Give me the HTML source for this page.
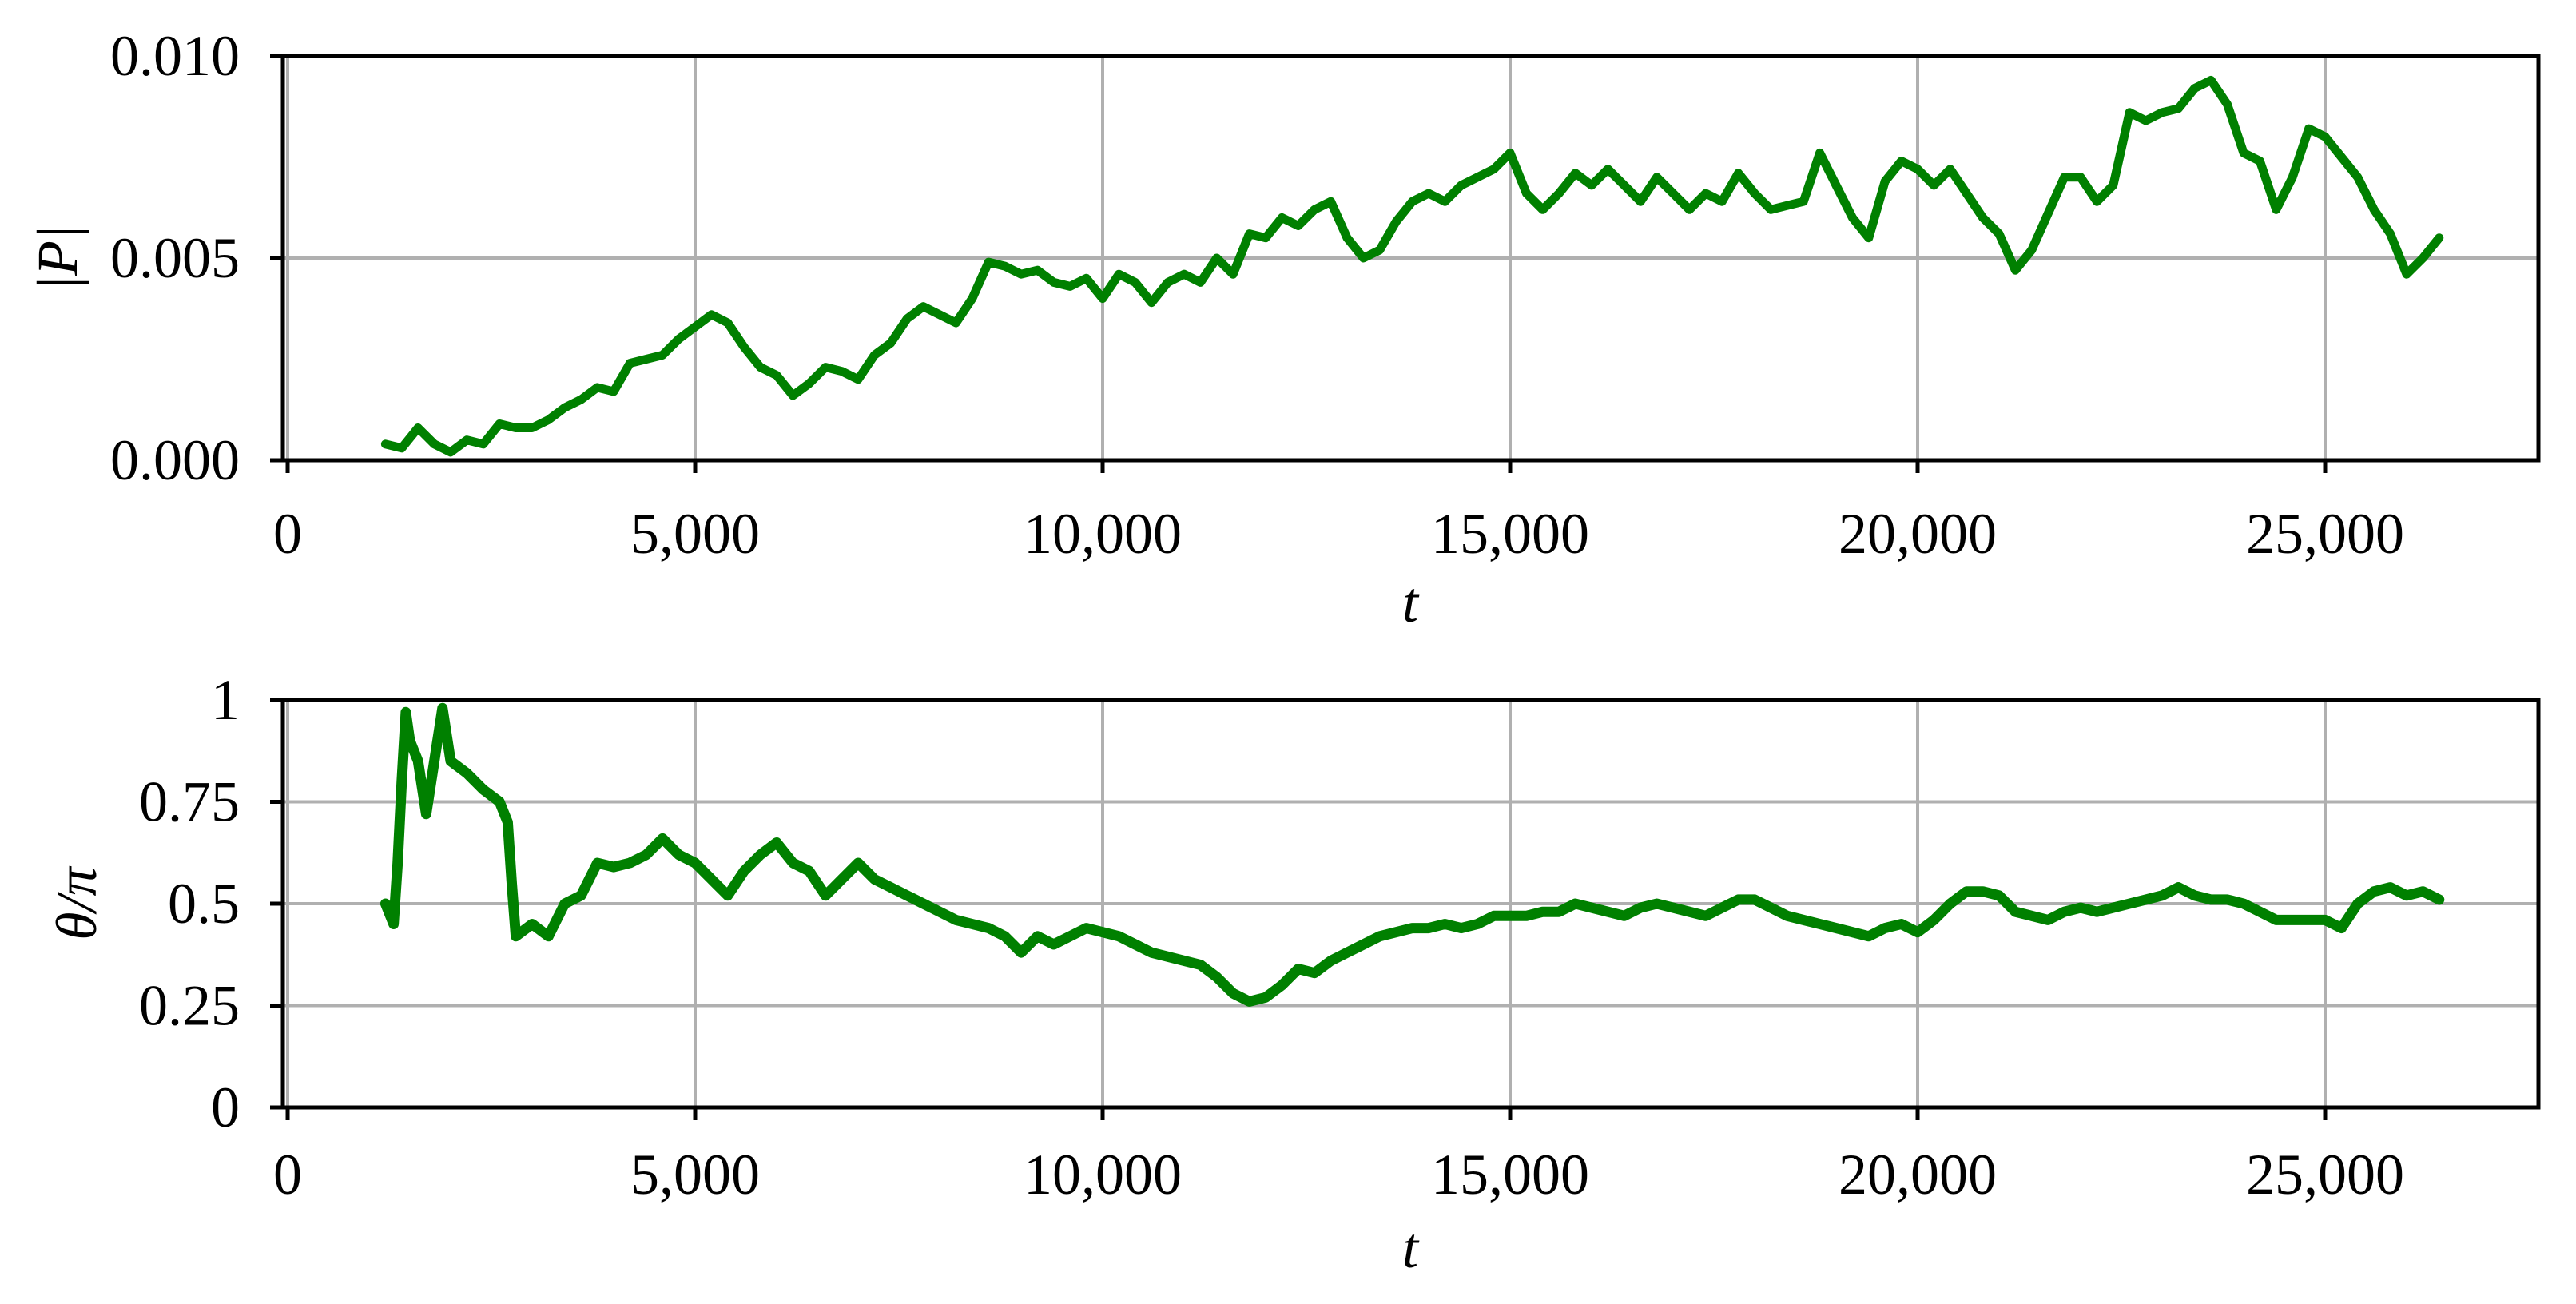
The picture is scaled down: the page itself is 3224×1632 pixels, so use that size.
<!DOCTYPE html>
<html><head><meta charset="utf-8"><style>
html,body{margin:0;padding:0;background:#fff;}
svg{display:block;}
text{font-family:"Liberation Serif","DejaVu Serif",serif;fill:#000;}
</style></head><body>
<svg id="fig" width="3224" height="1632" viewBox="0 0 3224 1632" xmlns="http://www.w3.org/2000/svg"></svg>
<script>
const tP = [1200,1400,1600,1800,2000,2200,2400,2600,2800,3000,3200,3400,3600,3800,4000,4200,4400,4600,4800,5000,5200,5400,5600,5800,6000,6200,6400,6600,6800,7000,7200,7400,7600,7800,8000,8200,8400,8600,8800,9000,9200,9400,9600,9800,10000,10200,10400,10600,10800,11000,11200,11400,11600,11800,12000,12200,12400,12600,12800,13000,13200,13400,13600,13800,14000,14200,14400,14600,14800,15000,15200,15400,15600,15800,16000,16200,16400,16600,16800,17000,17200,17400,17600,17800,18000,18200,18400,18600,18800,19000,19200,19400,19600,19800,20000,20200,20400,20600,20800,21000,21200,21400,21600,21800,22000,22200,22400,22600,22800,23000,23200,23400,23600,23800,24000,24200,24400,24600,24800,25000,25200,25400,25600,25800,26000,26200,26400];
const pVals = [0.4,0.3,0.8,0.4,0.2,0.5,0.4,0.9,0.8,0.8,1.0,1.3,1.5,1.8,1.7,2.4,2.5,2.6,3.0,3.3,3.6,3.4,2.8,2.3,2.1,1.6,1.9,2.3,2.2,2.0,2.6,2.9,3.5,3.8,3.6,3.4,4.0,4.9,4.8,4.6,4.7,4.4,4.3,4.5,4.0,4.6,4.4,3.9,4.4,4.6,4.4,5.0,4.6,5.6,5.5,6.0,5.8,6.2,6.4,5.5,5.0,5.2,5.9,6.4,6.6,6.4,6.8,7.0,7.2,7.6,6.6,6.2,6.6,7.1,6.8,7.2,6.8,6.4,7.0,6.6,6.2,6.6,6.4,7.1,6.6,6.2,6.3,6.4,7.6,6.8,6.0,5.5,6.9,7.4,7.2,6.8,7.2,6.6,6.0,5.6,4.7,5.2,6.1,7.0,7.0,6.4,6.8,8.6,8.4,8.6,8.7,9.2,9.4,8.8,7.6,7.4,6.2,7.0,8.2,8.0,7.5,7.0,6.2,5.6,4.6,5.0,5.5];
const tTh = [1200,1300,1350,1400,1450,1500,1600,1700,1800,1900,2000,2200,2400,2600,2700,2750,2800,3000,3200,3400,3600,3800,4000,4200,4400,4600,4800,5000,5200,5400,5600,5800,6000,6200,6400,6600,6800,7000,7200,7400,7600,7800,8000,8200,8400,8600,8800,9000,9200,9400,9600,9800,10000,10200,10400,10600,10800,11000,11200,11400,11600,11800,12000,12200,12400,12600,12800,13000,13200,13400,13600,13800,14000,14200,14400,14600,14800,15000,15200,15400,15600,15800,16000,16200,16400,16600,16800,17000,17200,17400,17600,17800,18000,18200,18400,18600,18800,19000,19200,19400,19600,19800,20000,20200,20400,20600,20800,21000,21200,21400,21600,21800,22000,22200,22400,22600,22800,23000,23200,23400,23600,23800,24000,24200,24400,24600,24800,25000,25200,25400,25600,25800,26000,26200,26400];
const thVals = [0.5,0.45,0.6,0.8,0.97,0.9,0.85,0.72,0.85,0.98,0.85,0.82,0.78,0.75,0.7,0.55,0.42,0.45,0.42,0.5,0.52,0.6,0.59,0.6,0.62,0.66,0.62,0.6,0.56,0.52,0.58,0.62,0.65,0.6,0.58,0.52,0.56,0.6,0.56,0.54,0.52,0.5,0.48,0.46,0.45,0.44,0.42,0.38,0.42,0.40,0.42,0.44,0.43,0.42,0.40,0.38,0.37,0.36,0.35,0.32,0.28,0.26,0.27,0.30,0.34,0.33,0.36,0.38,0.40,0.42,0.43,0.44,0.44,0.45,0.44,0.45,0.47,0.47,0.47,0.48,0.48,0.50,0.49,0.48,0.47,0.49,0.50,0.49,0.48,0.47,0.49,0.51,0.51,0.49,0.47,0.46,0.45,0.44,0.43,0.42,0.44,0.45,0.43,0.46,0.50,0.53,0.53,0.52,0.48,0.47,0.46,0.48,0.49,0.48,0.49,0.50,0.51,0.52,0.54,0.52,0.51,0.51,0.50,0.48,0.46,0.46,0.46,0.46,0.44,0.50,0.53,0.54,0.52,0.53,0.51];
const xTicks = [0,5000,10000,15000,20000,25000];
const xTickLabels = ["0","5,000","10,000","15,000","20,000","25,000"];
const pTicks = [0,5,10];
const pTickLabels = ["0.000","0.005","0.010"];
const thTicks = [0,0.25,0.5,0.75,1];
const thTickLabels = ["0","0.25","0.5","0.75","1"];

const NS="http://www.w3.org/2000/svg";
const svg=document.getElementById('fig');
function mk(tag,attrs,parent){const e=document.createElementNS(NS,tag);for(const k in attrs)e.setAttribute(k,attrs[k]);(parent||svg).appendChild(e);return e;}
const L=354,R=3177;
const xs=t=>360+t*(510/5000);

function panel(top,bot,ymin,ymax,tx,yv,yt,ytl,ylab,ylabX,name,tickLabY,xlabY,sw){
  const ys=v=>bot-(v-ymin)/(ymax-ymin)*(bot-top);
  const g=mk('g',{});
  
  
  xTicks.forEach(t=>{const l=mk('line',{x1:xs(t),x2:xs(t),y1:top,y2:bot,stroke:'#b0b0b0','stroke-width':4},g);
    });
  yt.forEach(v=>{const l=mk('line',{x1:L,x2:R,y1:ys(v),y2:ys(v),stroke:'#b0b0b0','stroke-width':4},g);
    });
  const d=tx.map((t,i)=>(i?'L':'M')+xs(t).toFixed(1)+','+ys(yv[i]).toFixed(1)).join(' ');
  const p=mk('path',{d:d,fill:'none',stroke:'#008000','stroke-width':sw,'stroke-linejoin':'round','stroke-linecap':'round'},g);
  
  
  const fr=mk('rect',{x:L,y:top,width:R-L,height:bot-top,fill:'none',stroke:'#000','stroke-width':5},g);
  
  xTicks.forEach((t,i)=>{mk('line',{x1:xs(t),x2:xs(t),y1:bot,y2:bot+16,stroke:'#000','stroke-width':5},g);
    const tl=mk('text',{x:xs(t),y:tickLabY,'font-size':72,'text-anchor':'middle'},g);tl.textContent=xTickLabels[i];
    });
  yt.forEach((v,i)=>{mk('line',{x1:L-16,x2:L,y1:ys(v),y2:ys(v),stroke:'#000','stroke-width':5},g);
    const tl=mk('text',{x:300,y:ys(v)+24,'font-size':72,'text-anchor':'end'},g);tl.textContent=ytl[i];
    });
  const xl=mk('text',{x:1765,y:xlabY,'font-size':72,'font-style':'italic','text-anchor':'middle'},g);xl.textContent='t';
  
  const cy=(top+bot)/2;
  const yl=mk('text',{x:ylabX,y:cy,'font-size':72,'font-style':'italic','text-anchor':'middle',transform:'rotate(-90 '+ylabX+' '+cy+')'},g);yl.textContent=ylab;
  
}
panel(70,576,0,10,tP,pVals,pTicks,pTickLabels,'|P|',96,'momentum',692,778,11);
panel(876,1386,0,1,tTh,thVals,thTicks,thTickLabels,'θ/π',120,'angle',1494,1586,13);
</script>
</body></html>
